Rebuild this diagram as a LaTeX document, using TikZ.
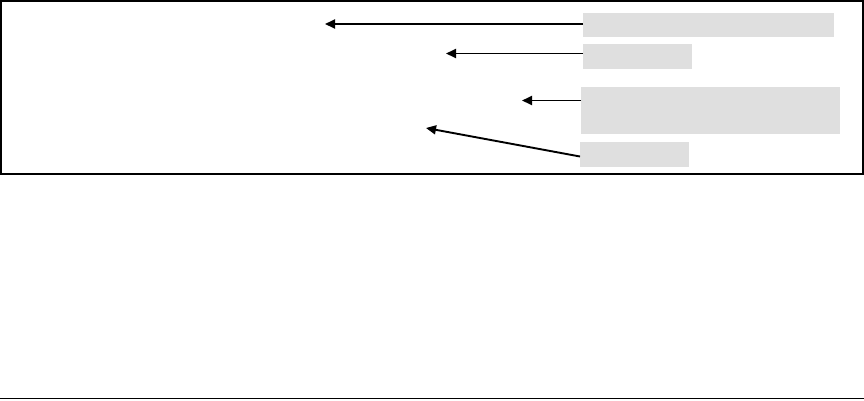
\documentclass[tikz,border=0pt]{standalone}
\usetikzlibrary{arrows.meta}
\definecolor{boxgray}{RGB}{223,223,223}
\begin{document}
\begin{tikzpicture}[x=1pt,y=-1pt,
  graybox/.style={fill=boxgray,draw=none,inner sep=0pt,outer sep=0pt,anchor=north west},
  pointer/.style={line width=1.9pt,-{Triangle[length=10pt,width=9pt]}}]
\useasboundingbox (0,0) rectangle (864,400);
\draw[line width=2pt] (1,1) rectangle (863,174);
\draw[line width=1.5pt] (0,398.5) -- (864,398.5);
\node[graybox,minimum width=251pt,minimum height=24pt] (b1) at (583,13) {};
\node[graybox,minimum width=109pt,minimum height=25pt] (b2) at (583,44) {};
\node[graybox,minimum width=259pt,minimum height=47pt] (b3) at (581,87) {};
\node[graybox,minimum width=109pt,minimum height=25pt] (b4) at (580,142) {};
\coordinate (t1) at (325,24);
\coordinate (t2) at (446,53.5);
\coordinate (t3) at (522,100.5);
\coordinate (t4) at (426,128);
\draw[pointer] (b1.west |- t1) -- (t1);
\draw[pointer] (b2.west |- t2) -- (t2);
\draw[pointer] (b3.west |- t3) -- (t3);
\draw[pointer] ([yshift=-2pt]b4.west) -- (t4);
\end{tikzpicture}
\end{document}
